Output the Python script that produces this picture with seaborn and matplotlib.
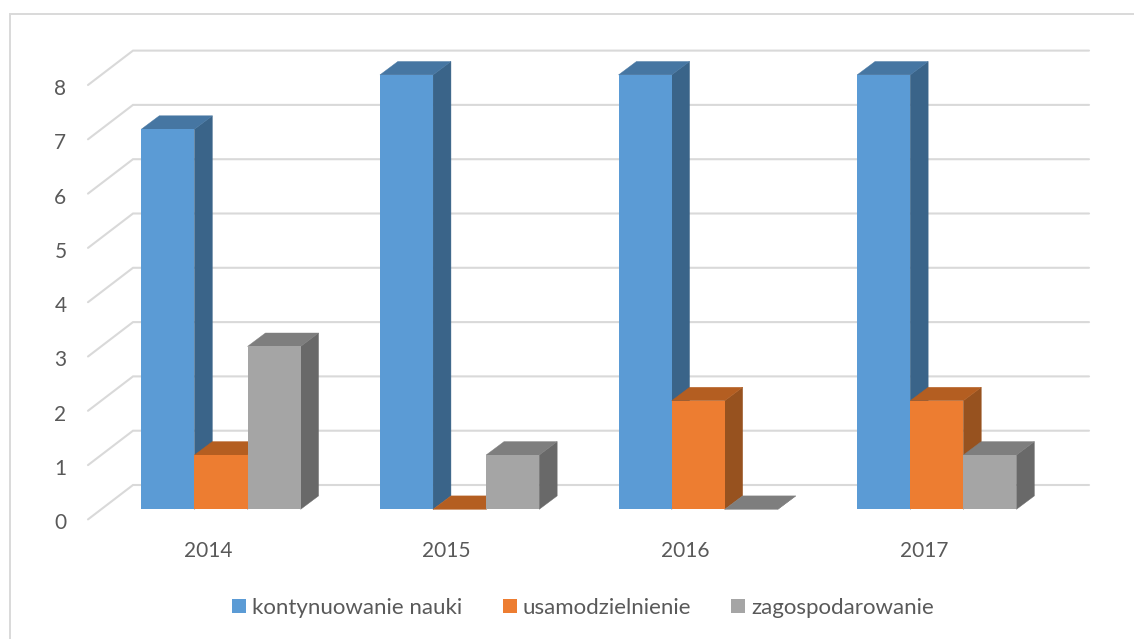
import matplotlib
matplotlib.use("Agg")
import matplotlib.pyplot as plt
from matplotlib.lines import Line2D
from matplotlib.patches import Patch, Polygon
from matplotlib.transforms import ScaledTranslation
import numpy as np
import pandas as pd
import seaborn as sns

years = ["2014", "2015", "2016", "2017"]
series_names = ["kontynuowanie nauki", "usamodzielnienie", "zagospodarowanie"]
kontynuowanie = [7, 8, 8, 8]
usamodzielnienie = [1, 0, 2, 2]
zagospodarowanie = [3, 1, 0, 1]
y_ticks = [0, 1, 2, 3, 4, 5, 6, 7, 8]

front_colors = ["#5B9BD5", "#ED7D31", "#A5A5A5"]
top_colors = ["#4676A2", "#B45E21", "#7E7E7E"]
side_colors = ["#3A6489", "#97521F", "#696969"]
grid_color = "#D9D9D9"
text_color = "#595959"

W, H = 1134, 639
sns.set_theme(style="white")
plt.rcParams["font.family"] = ["Lato", "DejaVu Sans"]

df = pd.DataFrame({
    "year": np.tile(years, 3),
    "series": np.repeat(series_names, 4),
    "value": kontynuowanie + usamodzielnienie + zagospodarowanie,
})

fig = plt.figure(figsize=(W / 100, H / 100), dpi=100)
ax_left, ax_right, ax_top, ax_bottom = 88, 1089, 51, 521
ax = fig.add_axes([ax_left / W, 1 - ax_bottom / H, (ax_right - ax_left) / W, (ax_bottom - ax_top) / H])
ax.patch.set_alpha(0)

sns.barplot(data=df, x="year", y="value", hue="series", order=years, hue_order=series_names,
            palette=front_colors, saturation=1, width=0.6677, gap=0, legend=False, ax=ax, linewidth=0)

# pixel scale of the value / category axes
x_c0, x_step = 221.0, 238.6
y_0, y_unit = 509.3, 54.3
ax.set_xlim((ax_left - x_c0) / x_step, (ax_right - x_c0) / x_step)
ax.set_ylim((y_0 - ax_bottom) / y_unit, (y_0 - ax_top) / y_unit)

# depth of a bar, in data units
bar_dx, bar_dy = 17.9 / x_step, 13.4 / y_unit

# back wall and left wall gridlines
wall_x = (133 - x_c0) / x_step
wall_dy = (y_0 - 485) / y_unit
floor_dy = (y_0 - 85 - 8 * y_unit) / y_unit
ax_x0 = ax.get_xlim()[0]
for v in y_ticks:
    ax.plot([ax_x0, wall_x, ax.get_xlim()[1]], [v + floor_dy, v + wall_dy, v + wall_dy],
            color=grid_color, lw=1.5, zorder=1, clip_on=False, solid_joinstyle="miter")

# 3D faces derived from the bars seaborn drew
for i, container in enumerate(ax.containers):
    for bar in container:
        x, w, h = bar.get_x(), bar.get_width(), bar.get_height()
        bar.set_zorder(4 + 2 * i)
        top = [(x, h), (x + bar_dx, h + bar_dy), (x + w + bar_dx, h + bar_dy), (x + w, h)]
        side = [(x + w, 0), (x + w + bar_dx, bar_dy), (x + w + bar_dx, h + bar_dy), (x + w, h)]
        ax.add_patch(Polygon(side, closed=True, facecolor=side_colors[i], edgecolor=side_colors[i],
                             lw=0.3, zorder=3 + 2 * i))
        ax.add_patch(Polygon(top, closed=True, facecolor=top_colors[i], edgecolor=top_colors[i],
                             lw=0.3, zorder=3 + 2 * i))

for s in ax.spines.values():
    s.set_visible(False)
ax.set_xlabel("")
ax.set_ylabel("")
ax.set_yticks(y_ticks)
ax.set_yticklabels([str(v) for v in y_ticks])
ax.tick_params(axis="both", length=0, labelsize=15, labelcolor=text_color)
ax.tick_params(axis="y", pad=15.5)
ax.tick_params(axis="x", pad=14.7)

y_shift = ScaledTranslation(0, -12.0 / 100, fig.dpi_scale_trans)
for lab in ax.get_yticklabels():
    lab.set_transform(lab.get_transform() + y_shift)
x_shift = ScaledTranslation(-13 / 100, 0, fig.dpi_scale_trans)
for lab in ax.get_xticklabels():
    lab.set_transform(lab.get_transform() + x_shift)

handles = [Patch(facecolor=c, edgecolor="none", label=n) for c, n in zip(front_colors, series_names)]
fig.legend(handles=handles, ncols=3, frameon=False, fontsize=16, labelcolor=text_color,
           loc="center", bbox_to_anchor=(583 / W, 1 - 608 / H),
           handlelength=0.63, handleheight=0.63, handletextpad=0.27, columnspacing=1.8,
           borderpad=0, borderaxespad=0)

# chart frame (only top and left edges show in the picture)
fig.add_artist(Line2D([10 / W, 10 / W, 1], [0, 1 - 14 / H, 1 - 14 / H], color=grid_color, lw=1.4,
                      transform=fig.transFigure, solid_joinstyle="miter"))

fig.savefig("out.png", dpi=100)
